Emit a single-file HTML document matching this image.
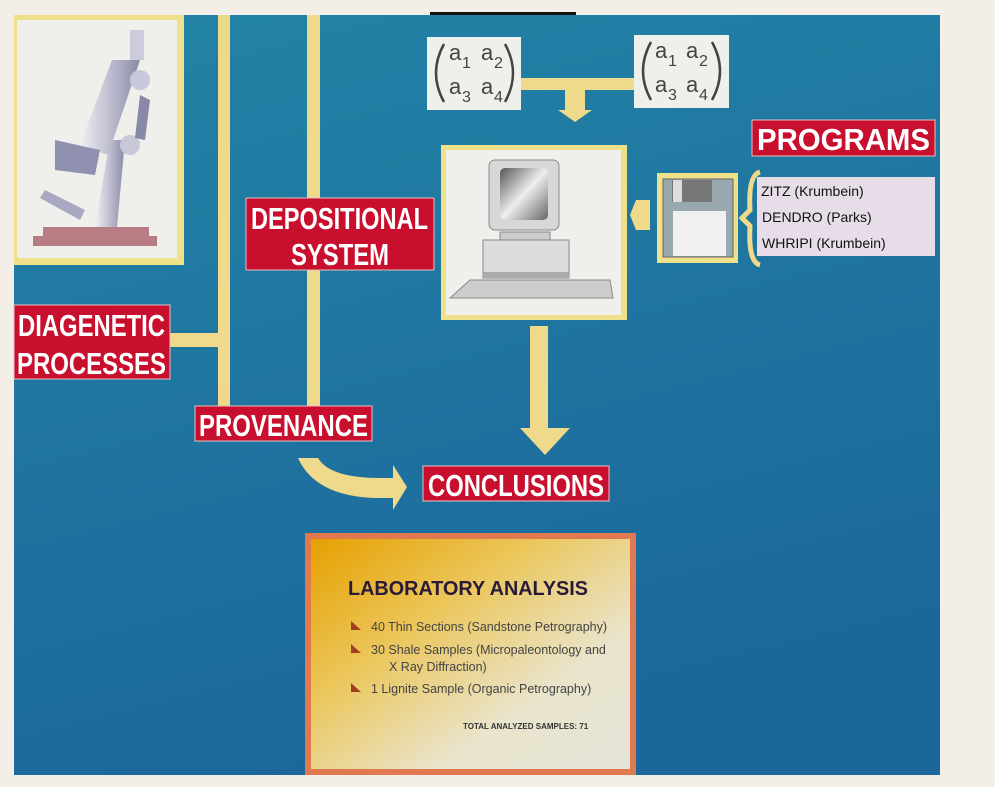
<!DOCTYPE html>
<html><head><meta charset="utf-8"><style>
body{margin:0;width:995px;height:787px;background:#f4eee8;overflow:hidden;position:relative;font-family:"Liberation Sans",sans-serif}
</style></head><body>
<svg width="995" height="787" style="position:absolute;left:0;top:0">
<defs>
<linearGradient id="bg" x1="0" y1="0" x2="0.3" y2="1"><stop offset="0" stop-color="#2384a6"/><stop offset="1" stop-color="#1b679a"/></linearGradient>
<linearGradient id="lab" x1="0" y1="0" x2="1" y2="1"><stop offset="0" stop-color="#e6a000"/><stop offset="0.35" stop-color="#ebc65a"/><stop offset="0.7" stop-color="#e9e4cc"/><stop offset="1" stop-color="#e4e4d8"/></linearGradient>
<linearGradient id="scr" x1="0" y1="0" x2="1" y2="1"><stop offset="0" stop-color="#555"/><stop offset="0.5" stop-color="#eee"/><stop offset="1" stop-color="#666"/></linearGradient>
<linearGradient id="mic" x1="0" y1="0" x2="1" y2="0"><stop offset="0" stop-color="#f0f0f6"/><stop offset="1" stop-color="#8a8aa8"/></linearGradient>
</defs>
<rect x="14" y="15" width="926" height="760" fill="url(#bg)"/>
<rect x="430" y="12" width="146" height="3" fill="#111"/>
<g fill="#efd98a">
<rect x="218" y="15" width="12" height="392"/>
<rect x="307" y="15" width="13" height="392"/>
<rect x="166" y="333" width="54" height="14"/>
<rect x="521" y="78" width="113" height="12"/>
<rect x="565" y="88" width="20" height="22"/>
<polygon points="558,110 592,110 575,122"/>
<rect x="530" y="326" width="18" height="104"/>
<polygon points="520,428 570,428 545,455"/>
<polygon points="636,200 650,200 650,230 636,230 630,215"/>
<path d="M298,458 L318,458 Q330,478 380,478 L393,478 L393,465 L407,487 L393,510 L393,498 L375,498 Q315,496 298,458 Z"/>
</g>
<rect x="14" y="15" width="170" height="250" fill="#efe08a"/>
<rect x="17" y="20" width="160" height="238" fill="#efefec"/>
<g>
<rect x="33" y="236" width="124" height="10" fill="#b87c84"/>
<rect x="43" y="227" width="106" height="10" fill="#b87c84"/>
<polygon points="95,227 117,227 125,140 110,140" fill="url(#mic)"/>
<polygon points="112,60 140,60 108,155 80,145" fill="url(#mic)"/>
<rect x="130" y="30" width="14" height="30" fill="#ccd"/>
<circle cx="140" cy="80" r="10" fill="#c8c8d8"/>
<circle cx="130" cy="145" r="10" fill="#c8c8d8"/>
<polygon points="55,140 100,150 95,175 55,170" fill="#9090b0"/>
<polygon points="45,190 85,210 80,220 40,198" fill="#a8a8c0"/>
<path d="M140,95 L150,100 L145,140 L135,138 Z" fill="#8888a8"/>
</g>
<rect x="427" y="37" width="94" height="73" fill="#efefec"/>
<rect x="634" y="35" width="95" height="73" fill="#efefec"/>
<g fill="none" stroke="#444" stroke-width="2.5">
<path d="M444,44 Q428,73 444,102"/><path d="M505,44 Q521,73 505,102"/>
<path d="M651,42 Q635,71 651,100"/><path d="M712,42 Q728,71 712,100"/>
</g>
<g font-family="Liberation Sans" fill="#444" font-size="22">
<text x="449" y="60">a</text><text x="462" y="68" font-size="16">1</text>
<text x="481" y="60">a</text><text x="494" y="68" font-size="16">2</text>
<text x="449" y="94">a</text><text x="462" y="102" font-size="16">3</text>
<text x="481" y="94">a</text><text x="494" y="102" font-size="16">4</text>
<text x="655" y="58">a</text><text x="668" y="66" font-size="16">1</text>
<text x="686" y="58">a</text><text x="699" y="66" font-size="16">2</text>
<text x="655" y="92">a</text><text x="668" y="100" font-size="16">3</text>
<text x="686" y="92">a</text><text x="699" y="100" font-size="16">4</text>
</g>
<rect x="441" y="145" width="186" height="175" fill="#efe08a"/>
<rect x="446" y="150" width="175" height="165" fill="#efefec"/>
<rect x="489" y="160" width="70" height="70" rx="6" fill="#d8d8d8" stroke="#888"/>
<rect x="500" y="168" width="48" height="52" rx="5" fill="url(#scr)"/>
<rect x="500" y="232" width="50" height="8" fill="#ccc" stroke="#888"/>
<rect x="483" y="240" width="86" height="38" fill="#ddd" stroke="#888"/>
<rect x="483" y="272" width="86" height="6" fill="#aaa"/>
<polygon points="470,280 610,280 613,298 450,298" fill="#ccc" stroke="#888"/>
<rect x="657" y="173" width="81" height="90" fill="#efe08a"/>
<rect x="663" y="179" width="70" height="78" fill="#9aa8b0" stroke="#666"/>
<rect x="672" y="180" width="40" height="22" fill="#777"/>
<rect x="673" y="180" width="9" height="22" fill="#ddd"/>
<rect x="673" y="211" width="53" height="45" fill="#f0f0f0"/>
<path d="M760,172 Q748,175 750,210 L742,218 L750,226 Q748,262 760,265" fill="none" stroke="#efd98a" stroke-width="5"/>
<rect x="757" y="177" width="178" height="79" fill="#e6dde8"/>
<g font-size="14" fill="#111"><text x="761" y="196">ZITZ (Krumbein)</text><text x="762" y="222">DENDRO (Parks)</text><text x="762" y="248">WHRIPI (Krumbein)</text></g>
<rect x="305" y="533" width="331" height="242" fill="#e07850"/>
<rect x="311" y="539" width="319" height="230" fill="url(#lab)"/>
<g>
<text x="348" y="595" font-size="20" font-weight="bold" fill="#2a1a3a" textLength="240" lengthAdjust="spacingAndGlyphs">LABORATORY ANALYSIS</text>
<text x="371" y="631" font-size="12.5" fill="#444">40 Thin Sections (Sandstone Petrography)</text>
<text x="371" y="654" font-size="12.5" fill="#444">30 Shale Samples (Micropaleontology and</text>
<text x="389" y="671" font-size="12.5" fill="#444">X Ray Diffraction)</text>
<text x="371" y="693" font-size="12.5" fill="#444">1 Lignite Sample (Organic Petrography)</text>
<text x="463" y="729" font-size="8" font-weight="bold" fill="#333">TOTAL ANALYZED SAMPLES: 71</text>
</g>
<g fill="#a04020"><polygon points="351,621 361,630 351,630"/><polygon points="351,644 361,653 351,653"/><polygon points="351,683 361,692 351,692"/></g>
<!-- red labels -->
<g fill="#c8102e" stroke="#e8c0c0" stroke-width="1">
<rect x="246" y="198" width="188" height="72"/>
<rect x="14" y="305" width="156" height="74"/>
<rect x="195" y="406" width="177" height="35"/>
<rect x="423" y="466" width="186" height="35"/>
<rect x="752" y="120" width="183" height="36"/>
</g>
<g fill="#fff" font-weight="bold" font-size="31" lengthAdjust="spacingAndGlyphs">
<text x="251" y="229" textLength="177" lengthAdjust="spacingAndGlyphs">DEPOSITIONAL</text>
<text x="291" y="265" textLength="98" lengthAdjust="spacingAndGlyphs">SYSTEM</text>
<text x="18" y="336" textLength="147" lengthAdjust="spacingAndGlyphs">DIAGENETIC</text>
<text x="17" y="374" textLength="149" lengthAdjust="spacingAndGlyphs">PROCESSES</text>
<text x="199" y="436" textLength="169" lengthAdjust="spacingAndGlyphs">PROVENANCE</text>
<text x="428" y="496" textLength="176" lengthAdjust="spacingAndGlyphs">CONCLUSIONS</text>
<text x="757" y="150" textLength="173" lengthAdjust="spacingAndGlyphs">PROGRAMS</text>
</g>
</svg>
</body></html>
